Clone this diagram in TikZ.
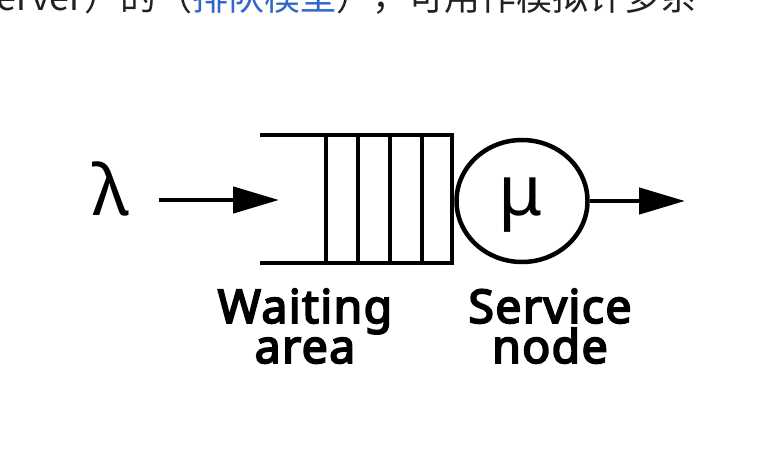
\documentclass[tikz,border=0pt]{standalone}
\usepackage{fontspec}
\usetikzlibrary{arrows.meta}
\usetikzlibrary{shapes.geometric}
\newfontfamily\labelfont{Noto Sans}
\newfontfamily\captionfont{Noto Sans}[FakeBold=4,LetterSpace=3]
\newfontfamily\cjkfont{Noto Sans CJK SC}
\definecolor{pagetext}{HTML}{202122}
\definecolor{linkblue}{HTML}{3366CC}
\tikzset{
  queueline/.style={draw=black,line width=3.2pt},
  flow/.style={black,line width=3.2pt,-{Triangle[length=1.15cm,width=0.65cm]}},
  greek/.style={font=\labelfont\fontsize{50}{50}\selectfont,text=black,inner sep=0pt},
  caption/.style={font=\captionfont\fontsize{33}{28.5}\selectfont,text=black,align=center,inner sep=0pt},
  cuttext/.style={font=\cjkfont\fontsize{25.6}{25.6}\selectfont,text=pagetext,inner sep=0pt}
}

\begin{document}
\begin{tikzpicture}
\useasboundingbox (0,0) rectangle (19,11.425);
\clip (0,0) rectangle (19,11.425);
\fill[white] (0,0) rectangle (19,11.425);

% text line cut off at the top
\node[cuttext,anchor=base east] (cuta) at (2.1,11.1625) {server};
\node[cuttext,anchor=base west] (cutb) at (cuta.base east) {）的（\textcolor{linkblue}{排队模型}），可用作模拟许多系};

% arrivals
\node[greek,anchor=base] (lambda) at (2.775,6.05) {λ};
\coordinate (arrive) at (3.975,6.425);
\coordinate (enter) at (6.975,6.425);
\draw[flow] (arrive) -- (enter);

% waiting area
\draw[queueline] (6.5,8.05) -- (11.3,8.05) -- (11.3,4.85) -- (6.5,4.85);
\foreach \x in {8.15,8.95,9.75,10.55}
  \draw[queueline] (\x,8.05) -- (\x,4.85);

% service node
\node[draw=black,line width=3.2pt,ellipse,minimum width=3.275cm,minimum height=3.05cm,inner sep=0pt] (server) at (13.05,6.4) {};
\node[greek,anchor=base] (mu) at (13.0,6.04) {μ};
\coordinate (leave) at (17.125,6.4);
\draw[flow] (server.east) -- (leave);

% captions
\node[caption,anchor=base] (waiting) at (7.625,2.35) {Waiting\\area};
\node[caption,anchor=base] (service) at (13.75,2.35) {Service\\node};
\end{tikzpicture}
\end{document}
